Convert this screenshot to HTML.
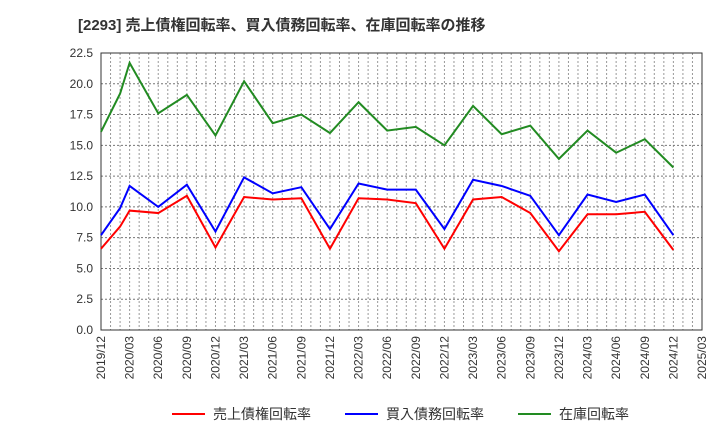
<!DOCTYPE html>
<html><head><meta charset="utf-8"><style>
body{margin:0;background:#fff;font-family:"Liberation Sans","Noto Sans CJK JP",sans-serif}
</style></head><body>
<svg id="c" width="720" height="440" xmlns="http://www.w3.org/2000/svg">
<text x="78" y="30" font-size="15" font-weight="bold" fill="#333" font-family="Liberation Sans, Noto Sans CJK JP, sans-serif">[2293]  売上債権回転率、買入債務回転率、在庫回転率の推移</text>
<g id="grid"></g><g id="axes"></g><g id="series"></g>
<g font-size="14" font-family="Liberation Sans, Noto Sans CJK JP, sans-serif" fill="#333">
<line x1="172" y1="414" x2="205" y2="414" stroke="#f00" stroke-width="2"/><text x="213" y="419">売上債権回転率</text>
<line x1="345" y1="414" x2="378" y2="414" stroke="#00f" stroke-width="2"/><text x="386" y="419">買入債務回転率</text>
<line x1="518" y1="414" x2="551" y2="414" stroke="#228b22" stroke-width="2"/><text x="559" y="419">在庫回転率</text>
</g>
</svg>
<script>
const months=[0,2,3,6,9,12,15,18,21,24,27,30,33,36,39,42,45,48,51,54,57,60];
const receivables=[6.6,8.4,9.7,9.5,10.9,6.7,10.8,10.6,10.7,6.6,10.7,10.6,10.3,6.6,10.6,10.8,9.5,6.4,9.4,9.4,9.6,6.5];
const payables=[7.7,9.9,11.7,10.0,11.8,8.0,12.4,11.1,11.6,8.2,11.9,11.4,11.4,8.2,12.2,11.7,10.9,7.7,11.0,10.4,11.0,7.7];
const inventory=[16.1,19.2,21.7,17.6,19.1,15.8,20.2,16.8,17.5,16.0,18.5,16.2,16.5,15.0,18.2,15.9,16.6,13.9,16.2,14.4,15.5,13.2];
const yTicks=["0.0","2.5","5.0","7.5","10.0","12.5","15.0","17.5","20.0","22.5"];
const xTicks=["2019/12","2020/03","2020/06","2020/09","2020/12","2021/03","2021/06","2021/09","2021/12","2022/03","2022/06","2022/09","2022/12","2023/03","2023/06","2023/09","2023/12","2024/03","2024/06","2024/09","2024/12","2025/03"];
const L=101,R=702,T=53,B=330,NM=63,YMAX=22.5;
const X=m=>L+(R-L)*m/NM, Y=v=>B-(B-T)*v/YMAX;
const ns="http://www.w3.org/2000/svg";
function mk(t,a,p){const e=document.createElementNS(ns,t);for(const k in a)e.setAttribute(k,a[k]);p.appendChild(e);return e;}
const g=document.getElementById('grid'),ax=document.getElementById('axes'),s=document.getElementById('series');
for(let m=1;m<NM;m++){const l=mk('line',{x1:X(m),x2:X(m),y1:T,y2:B,stroke:'#999','stroke-dasharray':'2,2','stroke-width':1},g);

}
yTicks.forEach(t=>{const v=parseFloat(t),y=Y(v);
if(v>0&&v<YMAX){const l=mk('line',{x1:L,x2:R,y1:y,y2:y,stroke:'#777','stroke-dasharray':'2,2','stroke-width':1},g);

}
const tx=mk('text',{x:L-8,y:y+4,'text-anchor':'end','font-size':12,fill:'#333'},ax);tx.textContent=t;

});
xTicks.forEach((t,i)=>{const x=X(i*3);
const tx=mk('text',{x:0,y:0,transform:`translate(${x+4},${B+6}) rotate(-90)`,'text-anchor':'end','font-size':12,fill:'#333'},ax);tx.textContent=t;

});
const fr=mk('rect',{x:L,y:T,width:R-L,height:B-T,fill:'none',stroke:'#333','stroke-width':1},ax);


[[inventory,'#228b22','inventory-line'],[payables,'#00f','payables-line'],[receivables,'#f00','receivables-line']].forEach(([d,c,n])=>{
const p=mk('polyline',{points:d.map((v,i)=>X(months[i])+','+Y(v)).join(' '),fill:'none',stroke:c,'stroke-width':2},s);

});
</script>
</body></html>
